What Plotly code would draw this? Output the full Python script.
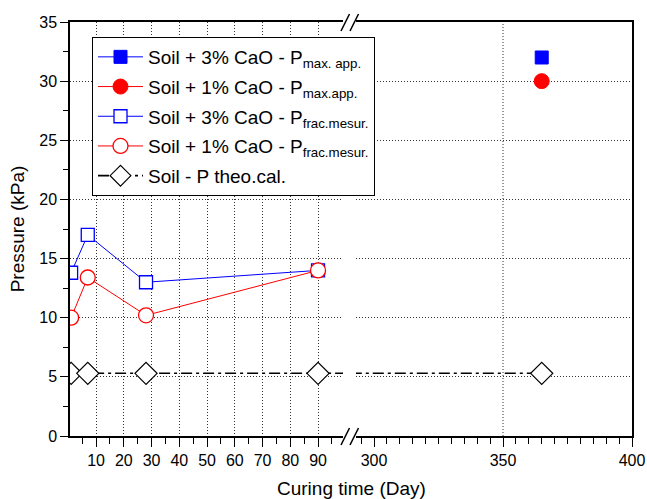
import plotly.graph_objects as go

# ---- data ----
days_early = [1, 7, 28, 90]
days_late = [365]
p_max_3 = [32.0]
p_max_1 = [30.0]
p_frac_3 = [13.8, 17.0, 13.0, 14.0]
p_frac_1 = [10.0, 13.4, 10.2, 14.0]
days_theo = [1, 7, 28, 90, 365]
p_theo = [5.3, 5.3, 5.3, 5.3, 5.3]

y_ticks = [0, 5, 10, 15, 20, 25, 30, 35]

FONT = "Arial, 'Liberation Sans', sans-serif"
BLUE = "#0000FF"
RED = "#FF0000"

# body margin is removed by the post script, so figure covers the window
OFF = 0
FW, FH = 647, 499
# screen-pixel geometry of the plot area
L, R, T, B = 70, 632, 22, 436
W, H = R - L, B - T
def px(x):
    return (x - L) / W
def py(y):
    return (B - y) / H

fig = go.Figure()

fig.add_trace(go.Scatter(
    x=days_late, y=p_max_3, xaxis="x2", yaxis="y2", mode="lines+markers",
    name="Soil + 3% CaO - P<sub>max. app.</sub>", legendgroup="a",
    line=dict(color=BLUE, width=1),
    marker=dict(symbol="square", size=13, color=BLUE, line=dict(color=BLUE, width=1))))
fig.add_trace(go.Scatter(
    x=days_late, y=p_max_1, xaxis="x2", yaxis="y2", mode="lines+markers",
    name="Soil + 1% CaO - P<sub>max.app.</sub>", legendgroup="b",
    line=dict(color=RED, width=1),
    marker=dict(symbol="circle", size=15, color=RED, line=dict(color=RED, width=1))))
fig.add_trace(go.Scatter(
    x=days_early, y=p_frac_3, mode="lines+markers",
    name="Soil + 3% CaO - P<sub>frac.mesur.</sub>", legendgroup="c",
    line=dict(color=BLUE, width=1),
    marker=dict(symbol="square", size=13, color="white", line=dict(color=BLUE, width=1.3))))
fig.add_trace(go.Scatter(
    x=days_early, y=p_frac_1, mode="lines+markers",
    name="Soil + 1% CaO - P<sub>frac.mesur.</sub>", legendgroup="d",
    line=dict(color=RED, width=1),
    marker=dict(symbol="circle", size=15, color="white", line=dict(color=RED, width=1.3))))
theo_line = dict(color="black", width=1.6, dash="11px,4px,3px,4px")
theo_marker = dict(symbol="diamond", size=17, color="white", line=dict(color="black", width=1.2))
fig.add_trace(go.Scatter(
    x=days_theo, y=p_theo, mode="lines+markers", legendgroup="e",
    name="Soil - P theo.cal.", line=theo_line, marker=theo_marker))
fig.add_trace(go.Scatter(
    x=days_theo, y=p_theo, xaxis="x2", yaxis="y2", mode="lines+markers", legendgroup="e",
    showlegend=False, line=theo_line, marker=theo_marker))

grid = dict(showgrid=True, gridcolor="#333333", gridwidth=1, griddash="1px,2px")
tickfont = dict(family=FONT, size=16, color="black")

left_end = 343
right_start = 356
xaxis = dict(
    domain=[0, px(left_end)], range=[0.6, 99.0], tickmode="linear", tick0=0, dtick=10,
    ticks="outside", ticklen=9, tickwidth=1, tickcolor="black",
    minor=dict(dtick=5, tick0=0, ticks="outside", ticklen=6, tickcolor="black", showgrid=False),
    showline=True, linecolor="black", linewidth=1.5, mirror=True, automargin=False,
    tickfont=tickfont, zeroline=False, anchor="y", **grid)
xaxis2 = dict(
    domain=[px(right_start), 1], range=[293, 400], tickmode="linear", tick0=0, dtick=50,
    ticks="outside", ticklen=9, tickwidth=1, tickcolor="black",
    minor=dict(dtick=5, tick0=0, ticks="outside", ticklen=6, tickcolor="black", showgrid=False),
    showline=True, linecolor="black", linewidth=1.5, mirror=True, showgrid=False,
    automargin=False, tickfont=tickfont, zeroline=False, anchor="y2")
yaxis = dict(
    range=[0, 35], tickvals=y_ticks, ticks="outside", ticklen=8, tickwidth=1, tickcolor="black",
    minor=dict(dtick=2.5, tick0=0, ticks="outside", ticklen=5, tickcolor="black", showgrid=False),
    showline=True, linecolor="black", linewidth=1.5, mirror=False, automargin=False,
    tickfont=tickfont, zeroline=False, anchor="x",
    title=dict(text="Pressure (kPa)", font=dict(family=FONT, size=19, color="black"), standoff=10),
    **grid)
yaxis2 = dict(
    range=[0, 35], tickvals=y_ticks, matches="y", showticklabels=False, ticks="",
    showline=True, linecolor="black", linewidth=1.5, side="right", anchor="x2",
    automargin=False, zeroline=False, **grid)

shapes = [
    dict(type="line", xref="x2", yref="paper", x0=350, x1=350, y0=0, y1=1,
         line=dict(color="#333333", width=1, dash="1px,2px"), layer="below"),
]
for ya in (B, T):
    for x0 in (341, 350):
        shapes.append(dict(type="line", xref="paper", yref="paper",
                           x0=px(x0), x1=px(x0 + 8.5), y0=py(ya + 9), y1=py(ya - 8),
                           line=dict(color="black", width=1.5)))

fig.update_layout(
    width=FW, height=FH,
    margin=dict(l=L - OFF, r=FW - (R - OFF), t=T - OFF, b=FH - (B - OFF), pad=0, autoexpand=False),
    paper_bgcolor="white", plot_bgcolor="white",
    font=dict(family=FONT, color="black"),
    xaxis=xaxis, xaxis2=xaxis2, yaxis=yaxis, yaxis2=yaxis2,
    shapes=shapes,
    showlegend=True,
    legend=dict(x=px(92), y=py(37), xanchor="left", yanchor="top",
                bgcolor="white", bordercolor="black", borderwidth=1,
                font=dict(family=FONT, size=19, color="black"), itemwidth=45,
                tracegroupgap=2),
    annotations=[dict(text="Curing time (Day)", xref="paper", yref="paper",
                      x=0.5, y=py(488), xanchor="center", yanchor="middle",
                      showarrow=False, font=dict(family=FONT, size=19, color="black"))],
)

fig.write_html(
    "out.html",
    config={"displayModeBar": False},
    post_script="document.body.style.margin='0';document.body.style.overflow='hidden';"
                "document.documentElement.style.overflow='hidden';",
)
